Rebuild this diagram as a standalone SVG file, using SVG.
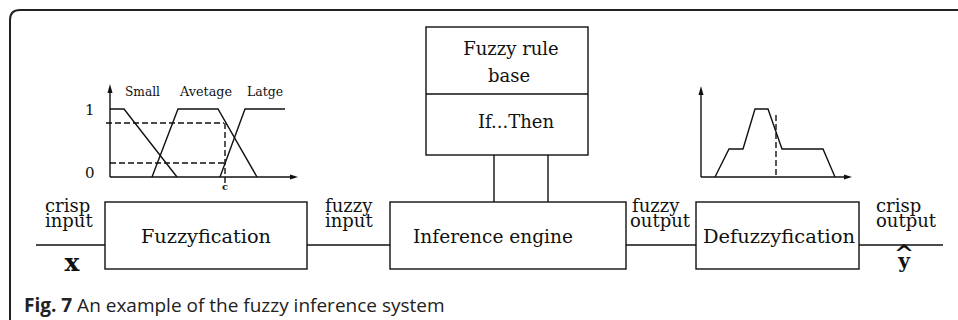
<svg xmlns="http://www.w3.org/2000/svg" width="958" height="320" viewBox="0 0 958 320">
<style>
.ln{fill:none;stroke:#111;stroke-width:1.4}
.bx{fill:#fff;stroke:#111;stroke-width:1.4}
.ds{fill:none;stroke:#111;stroke-width:1.4;stroke-dasharray:6 3}
.t{font-family:"DejaVu Serif","Liberation Serif",serif;font-size:18px;fill:#111}
.s{font-family:"DejaVu Serif","Liberation Serif",serif;font-size:12.5px;fill:#111}
.ax{font-family:"DejaVu Serif","Liberation Serif",serif;font-size:15px;fill:#111}
.b{font-family:"DejaVu Serif","Liberation Serif",serif;font-weight:bold;fill:#111}
.cap{font-family:"Open Sans","Noto Sans",sans-serif;font-size:19px;fill:#222}
.ah{fill:#111;stroke:none}
</style>
<rect width="958" height="320" fill="#fff"/>
<path d="M10,320 V20 Q10,10 20,10 H958" fill="none" stroke="#222" stroke-width="2"/>

<g id="input-graph">
  <line class="ln" x1="110" y1="177" x2="110" y2="88"/>
  <path class="ah" d="M107.5,93 L110,84 L112.5,93 Z"/>
  <line class="ln" x1="110" y1="177" x2="293" y2="177"/>
  <path class="ah" d="M290,174.5 L298,177 L290,179.5 Z"/>
  <polyline class="ln" points="110,109 124,109 177,177"/>
  <polyline class="ln" points="152,177 178,109 218,109 257,177"/>
  <polyline class="ln" points="220,177 245,109 285,109"/>
  <line class="ds" x1="106" y1="123" x2="224" y2="123"/>
  <line class="ds" x1="110" y1="163" x2="224" y2="163"/>
  <line class="ds" x1="225" y1="123" x2="225" y2="184"/>
  <text class="s" x="125" y="96" textLength="35" lengthAdjust="spacingAndGlyphs">Small</text>
  <text class="s" x="180" y="96" textLength="52" lengthAdjust="spacingAndGlyphs">Avetage</text>
  <text class="s" x="247" y="96" textLength="36" lengthAdjust="spacingAndGlyphs">Latge</text>
  <text class="ax" x="85" y="115">1</text>
  <text class="ax" x="85" y="178">0</text>
  <text class="b" x="225" y="190" font-size="10" text-anchor="middle">c</text>
</g>

<g id="output-graph">
  <line class="ln" x1="701" y1="177" x2="701" y2="90"/>
  <path class="ah" d="M698.5,95 L701,86 L703.5,95 Z"/>
  <line class="ln" x1="701" y1="177" x2="847" y2="177"/>
  <path class="ah" d="M844,174.5 L852,177 L844,179.5 Z"/>
  <polyline class="ln" points="715,177 729,149 743,149 755,109 768,109 782,149 823,149 835,177"/>
  <line class="ds" x1="776" y1="115" x2="776" y2="177"/>
</g>

<g id="connectors">
  <line class="ln" x1="36" y1="245" x2="105" y2="245"/>
  <line class="ln" x1="307" y1="245" x2="390" y2="245"/>
  <line class="ln" x1="626" y1="245" x2="696" y2="245"/>
  <line class="ln" x1="859" y1="245" x2="943" y2="245"/>
  <line class="ln" x1="494" y1="155" x2="494" y2="202"/>
  <line class="ln" x1="548" y1="155" x2="548" y2="202"/>
</g>

<g id="labels">
  <text class="t" x="45" y="212">crisp</text>
  <text class="t" x="45" y="227">input</text>
  <text class="b" x="72" y="271" font-size="25" text-anchor="middle">x</text>
  <text class="t" x="325" y="212">fuzzy</text>
  <text class="t" x="325" y="227">input</text>
  <text class="t" x="632" y="212">fuzzy</text>
  <text class="t" x="630" y="227">output</text>
  <text class="t" x="876" y="212">crisp</text>
  <text class="t" x="876" y="227">output</text>
  <text class="b" x="904" y="262" font-size="24" text-anchor="middle">^</text>
  <text class="b" x="904" y="268" font-size="20" text-anchor="middle">y</text>
</g>

<g id="fuzzyfication">
  <rect class="bx" x="105" y="202" width="202" height="67"/>
  <text class="t" x="206" y="243" text-anchor="middle" textLength="130" lengthAdjust="spacingAndGlyphs">Fuzzyfication</text>
</g>

<g id="inference-engine">
  <rect class="bx" x="390" y="202" width="236" height="67"/>
  <text class="t" x="493" y="243" text-anchor="middle" textLength="160" lengthAdjust="spacingAndGlyphs">Inference engine</text>
</g>

<g id="defuzzyfication">
  <rect class="bx" x="696" y="202" width="163" height="67"/>
  <text class="t" x="779" y="243" text-anchor="middle" textLength="152" lengthAdjust="spacingAndGlyphs">Defuzzyfication</text>
</g>

<g id="rule-base">
  <rect class="bx" x="426" y="27" width="162" height="128"/>
  <line class="ln" x1="426" y1="94" x2="588" y2="94"/>
  <text class="t" x="511" y="55" text-anchor="middle">Fuzzy rule</text>
  <text class="t" x="509" y="82" text-anchor="middle">base</text>
  <text class="t" x="516" y="128" text-anchor="middle">If...Then</text>
</g>

<text class="cap" x="24" y="312"><tspan font-weight="bold">Fig. 7</tspan> An example of the fuzzy inference system</text>
</svg>
